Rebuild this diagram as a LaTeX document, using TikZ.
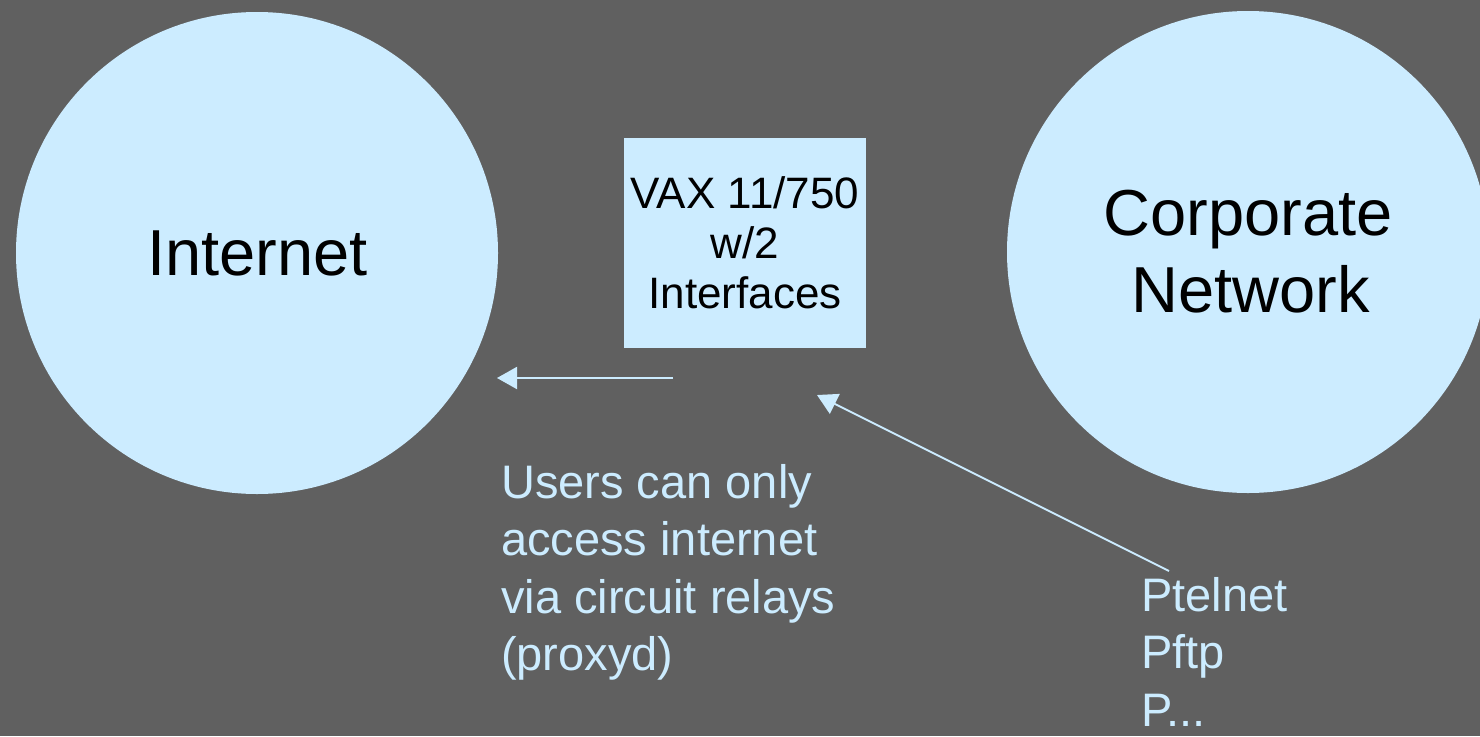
\documentclass[tikz,border=0pt]{standalone}
\usepackage{fontspec}
\setmainfont{Liberation Sans}
\usetikzlibrary{arrows.meta}
\definecolor{bg}{HTML}{606060}
\definecolor{lb}{HTML}{CCECFF}
\newcommand\ctrline[1]{\hbox to 0pt{\hss#1\hss}}
\newcommand\lftline[1]{\hbox{#1}}
\begin{document}
\begin{tikzpicture}[x=1pt,y=-1pt,
  cloud/.style={circle,fill=lb,draw=none,minimum size=482pt,inner sep=0pt},
  bigtxt/.style={font=\fontsize{65}{77}\selectfont,text=black,inner sep=0pt,anchor=base},
  boxnode/.style={fill=lb,draw=none,minimum width=242pt,minimum height=210pt,inner sep=0pt},
  boxtxt/.style={font=\fontsize{44}{50}\selectfont,text=black,inner sep=0pt,anchor=base},
  note/.style={font=\fontsize{47}{57.5}\selectfont,text=lb,inner sep=0pt,anchor=base west},
  conn/.style={draw=lb,line width=2pt,-{Triangle[length=20pt,width=22pt]}}]
\fill[bg] (0,0) rectangle (1480,736);
\useasboundingbox (0,0) rectangle (1480,736);
\node[cloud] (inet) at (257,253) {};
\node[bigtxt] (inettxt) at (257.5,275) {Internet};
\node[cloud] (corp) at (1248,252) {};
\node[bigtxt] (corptxt) at (1248,235) {\vtop{\ctrline{Corporate}\ctrline{\kern5pt Network}}};
\node[boxnode] (vax) at (745,243) {};
\node[boxtxt] (vaxtxt) at (745,208) {\vtop{\ctrline{VAX 11/750}\ctrline{w/2}\ctrline{Interfaces}}};
\node[note] (users) at (501,498) {\vtop{\lftline{Users can only}\lftline{access internet}\lftline{via circuit relays}\lftline{(proxyd)}}};
\node[note] (prox) at (1141,611) {\vtop{\lftline{Ptelnet}\lftline{Pftp}\lftline{P...}}};
\coordinate (a1s) at (673,378);
\coordinate (a1e) at (497,378);
\coordinate (a2s) at (1169,571);
\coordinate (a2e) at (817,395);
\draw[conn] (a1s) -- (a1e);
\draw[conn] (a2s) -- (a2e);
\end{tikzpicture}
\end{document}
